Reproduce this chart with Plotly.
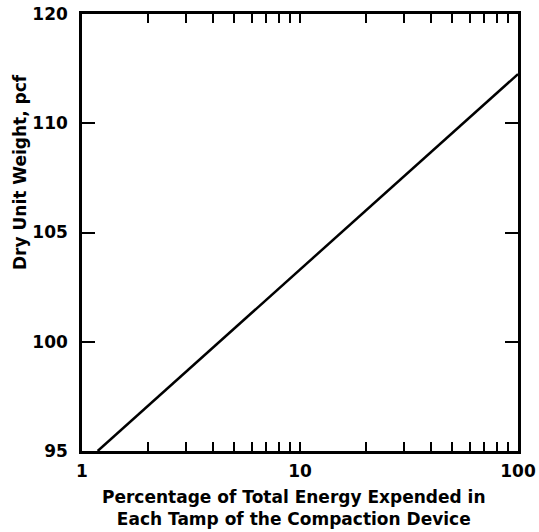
import plotly.graph_objects as go

# Energy per tamp (% of total) vs. dry unit weight (pcf)
energy_pct = [1.18, 100]
dry_unit_weight = [95.0, 112.25]

y_tick_vals = [95, 100, 105, 110, 115]
y_tick_text = ["95", "100", "105", "110", "120"]
x_tick_vals = [1, 10, 100]
x_tick_text = ["1", "10", "100"]
x_minor_vals = [2, 3, 4, 5, 6, 7, 8, 9, 20, 30, 40, 50, 60, 70, 80, 90]

x_title = "Percentage of Total Energy Expended in<br>Each Tamp of the Compaction Device"
y_title = "Dry Unit Weight, pcf"

FONT = "DejaVu Sans"
W, H = 539, 532
L, R, T, B = 82, 21, 14, 81
PW, PH = W - L - R, H - T - B


def px_x(p):
    return (p - L) / PW


def px_y(p):
    return (H - B - p) / PH


fig = go.Figure()
fig.add_trace(go.Scatter(
    x=energy_pct, y=dry_unit_weight, mode="lines",
    line=dict(color="black", width=2.5), showlegend=False, hoverinfo="skip",
))

axis_common = dict(
    ticks="inside", tickwidth=2, tickcolor="black",
    showline=True, linecolor="black", linewidth=2.5, mirror="allticks",
    showgrid=False, zeroline=False, automargin=False,
    tickfont=dict(size=17, family=FONT, weight="bold"),
)

fig.update_layout(
    width=W, height=H,
    margin=dict(l=L, r=R, t=T, b=B),
    paper_bgcolor="white", plot_bgcolor="white",
    font=dict(family=FONT, color="black", weight="bold"),
    xaxis=dict(
        type="log", range=[0, 2],
        tickvals=x_tick_vals, ticktext=x_tick_text, ticklen=9,
        minor=dict(tickvals=x_minor_vals, ticks="inside", ticklen=9,
                   tickwidth=2, tickcolor="black", showgrid=False),
        ticklabelstandoff=3,
        **axis_common,
    ),
    yaxis=dict(
        range=[95, 115],
        tickvals=y_tick_vals, ticktext=y_tick_text, ticklen=13,
        ticklabelstandoff=8,
        **axis_common,
    ),
    annotations=[
        dict(text=x_title, xref="paper", yref="paper",
             x=px_x(294), y=px_y(485), xanchor="center", yanchor="top",
             showarrow=False, align="center",
             font=dict(size=17, family=FONT, weight="bold", color="black")),
        dict(text=y_title, xref="paper", yref="paper",
             x=px_x(20), y=px_y(172), xanchor="center", yanchor="middle",
             textangle=-90, showarrow=False,
             font=dict(size=17, family=FONT, weight="bold", color="black")),
    ],
)

fig.write_html("out.html")
